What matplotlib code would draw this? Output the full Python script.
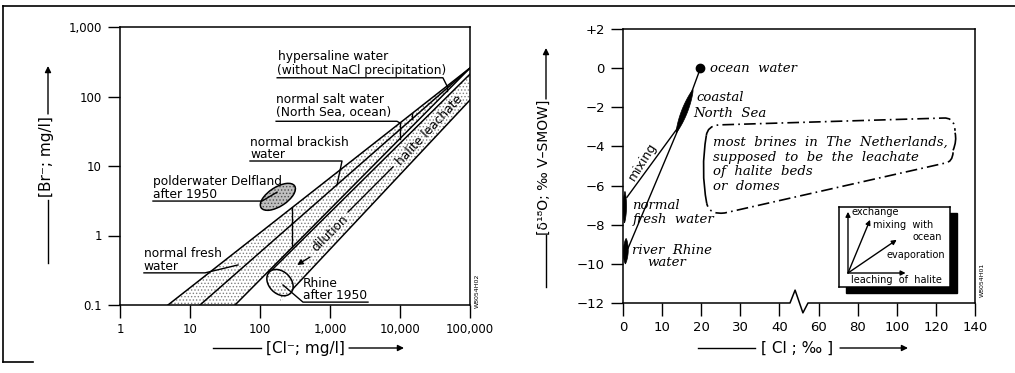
import numpy as np
import matplotlib
matplotlib.use('Agg')
import matplotlib.pyplot as plt
import matplotlib.transforms as mtransforms
from matplotlib.patches import Ellipse, Rectangle, PathPatch, Polygon
from matplotlib.path import Path
from matplotlib.lines import Line2D
from matplotlib.ticker import FixedLocator, FixedFormatter, NullLocator

# ---------------- left panel data: [Br-] vs [Cl-] in mg/l (log-log)
cl_ticks = [1, 10, 100, 1000, 10000, 100000]
cl_labels = ['1', '10', '100', '1,000', '10,000', '100,000']
br_ticks = [0.1, 1, 10, 100, 1000]
br_labels = ['0.1', '1', '10', '100', '1,000']

# straight lines in log-log space, (Cl, Br) start and end points
line_upper = [(4.85, 0.1), (1e5, 257)]
line_mid = [(13.9, 0.1), (1e5, 257)]
line_low = [(44, 0.1), (1e5, 257)]
halite_top = [(139, 0.30), (1e5, 210)]
halite_bot = [(268, 0.154), (1e5, 89)]

rhine_center = (193, 0.21)
polder_center = (180, 3.6)

# chloride values where the water-type ranges are marked
fresh_cl = 287
salt_cl = [10000, 14800]
hyper_cl = 47000
brackish_cl = 1260

# ---------------- right panel data: d18O vs Cl (per mil)
cl2_ticks = [0, 10, 20, 30, 40, 60, 80, 100, 120, 140]
d18_ticks = [-12, -10, -8, -6, -4, -2, 0, 2]
d18_labels = ['\u221212', '\u221210', '\u22128', '\u22126', '\u22124', '\u22122', '0', '+2']

ocean = (19.8, 0.0)
coastal_lens = [(17.9, -1.1), (13.6, -3.3)]
fresh_lens = [(0.5, -6.3), (0.4, -7.9)]
rhine_lens = [(0.8, -8.7), (0.6, -10.0)]
mix_fresh = [(15.1, -2.75), (1.0, -6.6)]
mix_rhine = [(19.8, 0.0), (13.8, -3.27), (1.3, -9.2)]

W, H = 1015, 373
fig = plt.figure(figsize=(W / 100, H / 100), dpi=100)


def fp(x, y):
    # pixel position (from top-left) to figure fraction
    return x / W, 1 - y / H


def loglin(seg, x):
    (x0, y0), (x1, y1) = seg
    s = (np.log10(y1) - np.log10(y0)) / (np.log10(x1) - np.log10(x0))
    return 10 ** (np.log10(y0) + s * (np.log10(x) - np.log10(x0)))


def fig_line(p0, p1, arrow=False, lw=1.0):
    a, b = fp(*p0), fp(*p1)
    if arrow:
        fig.add_artist(matplotlib.patches.FancyArrowPatch(a, b, transform=fig.transFigure,
                       arrowstyle='-|>', mutation_scale=9, lw=lw, color='k',
                       shrinkA=0, shrinkB=0))
    else:
        fig.add_artist(Line2D([a[0], b[0]], [a[1], b[1]], transform=fig.transFigure,
                              color='k', lw=lw))


# ============================ LEFT PANEL
ax1 = fig.add_axes([120 / W, 1 - 305 / H, 350 / W, 278 / H])
ax1.set_xscale('log')
ax1.set_yscale('log')
ax1.set_xlim(1, 1e5)
ax1.set_ylim(0.1, 1000)
ax1.xaxis.set_major_locator(FixedLocator(cl_ticks))
ax1.xaxis.set_major_formatter(FixedFormatter(cl_labels))
ax1.yaxis.set_major_locator(FixedLocator(br_ticks))
ax1.yaxis.set_major_formatter(FixedFormatter(br_labels))
ax1.xaxis.set_minor_locator(NullLocator())
ax1.yaxis.set_minor_locator(NullLocator())
ax1.tick_params(direction='out', length=9, width=1, labelsize=8.5, pad=4)
for sp in ax1.spines.values():
    sp.set_linewidth(1.1)

plt.rcParams['hatch.linewidth'] = 0.6
hatch_kw = dict(facecolor='none', edgecolor='0.5', hatch='.....', lw=0)

xs = np.logspace(np.log10(line_upper[0][0]), 5, 300)
ax1.fill_between(xs, np.maximum(loglin(line_mid, xs), 0.1), loglin(line_upper, xs), **hatch_kw)
xs = np.logspace(np.log10(line_mid[0][0]), 5, 300)
ax1.fill_between(xs, np.maximum(loglin(line_low, xs), 0.1), loglin(line_mid, xs), **hatch_kw)
xs = np.logspace(np.log10(rhine_center[0]), 5, 300)
ax1.fill_between(xs, loglin(halite_bot, xs), loglin(halite_top, xs), **hatch_kw)

for seg in (line_upper, line_mid, line_low, halite_top, halite_bot):
    ax1.plot([seg[0][0], seg[1][0]], [seg[0][1], seg[1][1]], color='k', lw=1.1)

# range brackets
def bracket(cl, a, b):
    ax1.plot([cl, cl], [loglin(a, cl), loglin(b, cl)], color='k', lw=1)

bracket(fresh_cl, line_upper, line_low)
bracket(salt_cl[0], line_upper, line_low)
bracket(salt_cl[1], line_upper, line_mid)
bracket(hyper_cl, line_upper, line_low)

# ellipses, sized in inches around data centres
def ell(center, w, h, ang, **kw):
    cx, cy = ax1.transData.transform(center) / fig.dpi
    e = Ellipse((cx, cy), w, h, angle=ang, transform=fig.dpi_scale_trans, **kw)
    ax1.add_artist(e)

ell(rhine_center, 0.30, 0.22, -45, facecolor='white', edgecolor='none', zorder=3)
ell(rhine_center, 0.30, 0.22, -45, facecolor='none', edgecolor='0.45', hatch='.....', lw=0, zorder=3)
ell(rhine_center, 0.30, 0.22, -45, facecolor='none', edgecolor='k', lw=1.1, zorder=4)
ell(polder_center, 0.40, 0.19, 33, facecolor='0.75', edgecolor='0.3', hatch='.....', lw=0, zorder=3)
ell(polder_center, 0.40, 0.19, 33, facecolor='none', edgecolor='k', lw=1.1, zorder=4)

fs = 8.8
tk = dict(fontsize=fs, ha='left', va='center')
lk = dict(color='k', lw=1, clip_on=False)

ax1.text(181, 380, 'hypersaline water', **tk)
ax1.text(176, 240, '(without NaCl precipitation)', **tk)
ax1.plot([176, 41000, hyper_cl], [186, 186, loglin(line_upper, hyper_cl)], **lk)

ax1.text(170, 92, 'normal salt water', **tk)
ax1.text(170, 58, '(North Sea, ocean)', **tk)
ax1.plot([170, 9060, salt_cl[0]], [44, 44, loglin(line_upper, salt_cl[0])], **lk)

ax1.text(72, 22, 'normal brackish', **tk)
ax1.text(72, 14.4, 'water', **tk)
ax1.plot([72, 1485, brackish_cl], [11.8, 11.8, loglin(line_mid, brackish_cl)], **lk)

ax1.text(2.96, 5.9, 'polderwater Delfland', **tk)
ax1.text(2.96, 3.95, 'after 1950', **tk)
ax1.plot([2.96, 107, 175], [3.13, 3.13, 4.2], zorder=5, **lk)

ax1.text(2.2, 0.56, 'normal fresh', **tk)
ax1.text(2.2, 0.36, 'water', **tk)
ax1.plot([2.2, 16.4, 48.5], [0.29, 0.29, 0.377], **lk)

ax1.text(411, 0.207, 'Rhine', **tk)
ax1.text(411, 0.135, 'after 1950', **tk)
ax1.plot([3490, 411, 213], [0.11, 0.11, 0.194], zorder=5, **lk)

ax1.text(1000, 1.09, 'dilution', fontsize=fs, rotation=45, ha='center', va='center',
         rotation_mode='anchor')
ax1.plot([1808, 7940], [2.18, 9.7], **lk)
ax1.annotate('', xy=(339, 0.377), xytext=(518, 0.49),
             arrowprops=dict(arrowstyle='-|>', color='k', lw=1, mutation_scale=8,
                             shrinkA=0, shrinkB=0))
ax1.text(26800, 33, 'halite leachate', fontsize=fs, rotation=47, ha='center', va='center',
         rotation_mode='anchor')

fig.text(*fp(477, 291), 'W8054H02', rotation=90, fontsize=4.5, ha='center', va='center')

# axis labels with arrows
fig.text(*fp(305, 348), '[Cl\u207b; mg/l]', fontsize=11, ha='center', va='center')
fig_line((213, 348), (261, 348))
fig_line((349, 348), (404, 348), arrow=True)
fig.text(*fp(47, 157), '[Br\u207b; mg/l]', fontsize=11, ha='center', va='center', rotation=90)
fig_line((48, 263), (48, 200))
fig_line((48, 114), (48, 66), arrow=True)

# ============================ RIGHT PANEL
def fwd(x):
    x = np.asarray(x, float)
    return np.where(x <= 40, x, 20 + x / 2)


def inv(p):
    p = np.asarray(p, float)
    return np.where(p <= 40, p, 2 * (p - 20))


ax2 = fig.add_axes([623 / W, 1 - 303 / H, 352 / W, 274 / H])
ax2.set_xscale('function', functions=(fwd, inv))
ax2.set_xlim(0, 140)
ax2.set_ylim(-12, 2)
ax2.xaxis.set_major_locator(FixedLocator(cl2_ticks))
ax2.xaxis.set_major_formatter(FixedFormatter([str(v) for v in cl2_ticks]))
ax2.xaxis.set_minor_locator(NullLocator())
ax2.yaxis.set_major_locator(FixedLocator(d18_ticks))
ax2.yaxis.set_major_formatter(FixedFormatter(d18_labels))
ax2.tick_params(direction='out', length=9, width=1, labelsize=9.5, pad=4)
for sp in ax2.spines.values():
    sp.set_linewidth(1.1)
ax2.spines['bottom'].set_visible(False)

# broken x axis
bt = mtransforms.blended_transform_factory(ax2.transData, ax2.transAxes)
ax2.plot([0, 45.4, 48, 52, 54.6, 140], [0, 0, 0.047, -0.036, 0, 0], transform=bt,
         color='k', lw=1.1, clip_on=False)

ax2.plot(*zip(*mix_rhine), color='k', lw=1)
ax2.plot(*zip(*mix_fresh), color='k', lw=1)


def lens(p0, p1, wpx):
    a, b = ax2.transData.transform([p0, p1])
    t = np.linspace(0, 1, 40)
    d = b - a
    nrm = np.array([-d[1], d[0]]) / np.hypot(*d)
    mid = a[None, :] + t[:, None] * d
    w = wpx / 2 * np.sin(np.pi * t) ** 0.7
    poly = np.vstack([mid + w[:, None] * nrm, (mid - w[:, None] * nrm)[::-1]])
    ax2.add_patch(Polygon(ax2.transData.inverted().transform(poly), closed=True,
                          facecolor='k', edgecolor='k', lw=0.5))


lens(*coastal_lens, 6)
lens(*fresh_lens, 3.5)
lens(*rhine_lens, 5)
ax2.plot(*ocean, 'o', color='k', ms=6)

sk = dict(fontsize=9.5, family='DejaVu Serif', style='italic', ha='left', va='center')
ax2.text(22.3, 0, 'ocean  water', **sk)
ax2.text(18.7, -1.5, 'coastal', **sk)
ax2.text(17.9, -2.3, 'North  Sea', **sk)
ax2.text(2.3, -7.0, 'normal', **sk)
ax2.text(2.6, -7.75, 'fresh  water', **sk)
ax2.text(2.3, -9.3, 'river  Rhine', **sk)
ax2.text(6.1, -9.95, 'water', **sk)
ax2.text(4.9, -4.75, 'mixing', fontsize=9, rotation=58, ha='center', va='center',
         rotation_mode='anchor')
for i, s in enumerate(['most  brines  in  The  Netherlands,', 'supposed  to  be  the  leachate',
                       'of  halite  beds', 'or  domes']):
    ax2.text(23.0, -3.8 - 0.75 * i, s, **sk)

# speech-bubble outline around the brine text
M, Q, L = Path.MOVETO, Path.CURVE3, Path.LINETO
dd = dict(facecolor='none', edgecolor='k', lw=1.2, linestyle=(0, (7, 2.5, 1, 2.5)))
sd = dict(facecolor='none', edgecolor='k', lw=1.2)
top = Path([(21.3, -3.45), (21.6, -2.95), (24.5, -2.9), (123.7, -2.55), (129.5, -2.5),
            (129.8, -3.2)], [M, Q, Q, L, Q, Q])
rbr = Path([(129.8, -3.3), (130.8, -3.7), (128.8, -4.2)], [M, Q, Q])
bot = Path([(128.8, -4.3), (128.5, -4.8), (124.7, -4.85), (26.0, -7.4), (22.0, -7.5),
            (21.4, -6.9)], [M, Q, Q, L, Q, Q])
lbr = Path([(21.4, -6.9), (19.8, -5.2), (21.3, -3.45)], [M, Q, Q])
ax2.add_patch(PathPatch(top, **dd))
ax2.add_patch(PathPatch(bot, **dd))
ax2.add_patch(PathPatch(rbr, **sd))
ax2.add_patch(PathPatch(lbr, **sd))

fig.text(*fp(982, 280), 'W8054H01', rotation=90, fontsize=4.5, ha='center', va='center')

# inset with process vectors (shadowed box)
fig.add_artist(Rectangle(fp(846, 293), 111 / W, 80 / H, transform=fig.transFigure,
                         facecolor='k', edgecolor='k', zorder=1))
ax3 = fig.add_axes([839 / W, 1 - 287 / H, 111 / W, 80 / H], zorder=2)
ax3.set_xlim(0, 1)
ax3.set_ylim(0, 1)
ax3.set_xticks([])
ax3.set_yticks([])
for sp in ax3.spines.values():
    sp.set_linewidth(1.1)
o = (0.081, 0.175)
for tip in [(0.081, 0.94), (0.28, 0.84), (0.52, 0.59), (0.60, 0.175)]:
    ax3.annotate('', xy=tip, xytext=o, arrowprops=dict(arrowstyle='-|>', color='k', lw=1,
                 mutation_scale=7, shrinkA=0, shrinkB=0))
ik = dict(fontsize=7, va='center')
ax3.text(0.11, 0.94, 'exchange', ha='left', **ik)
ax3.text(0.31, 0.775, 'mixing  with', ha='left', **ik)
ax3.text(0.93, 0.625, 'ocean', ha='right', **ik)
ax3.text(0.955, 0.40, 'evaporation', ha='right', **ik)
ax3.text(0.11, 0.09, 'leaching  of  halite', ha='left', **ik)

fig.text(*fp(797, 348), '[ Cl ; \u2030 ]', fontsize=11, ha='center', va='center')
fig_line((698, 348), (755, 348))
fig_line((840, 348), (908, 348), arrow=True)
fig.text(*fp(544, 167), '[\u03b4\u00b9\u2078O; \u2030 V\u2013SMOW]', fontsize=10, ha='center',
         va='center', rotation=90)
fig_line((546, 287), (546, 235))
fig_line((546, 99), (546, 48), arrow=True)

# page frame fragments
fig_line((3, 6), (1015, 6), lw=1.2)
fig_line((3, 6), (3, 362), lw=1.2)
fig_line((3, 362), (33, 362), lw=1.2)

fig.savefig('out.png', dpi=100)
